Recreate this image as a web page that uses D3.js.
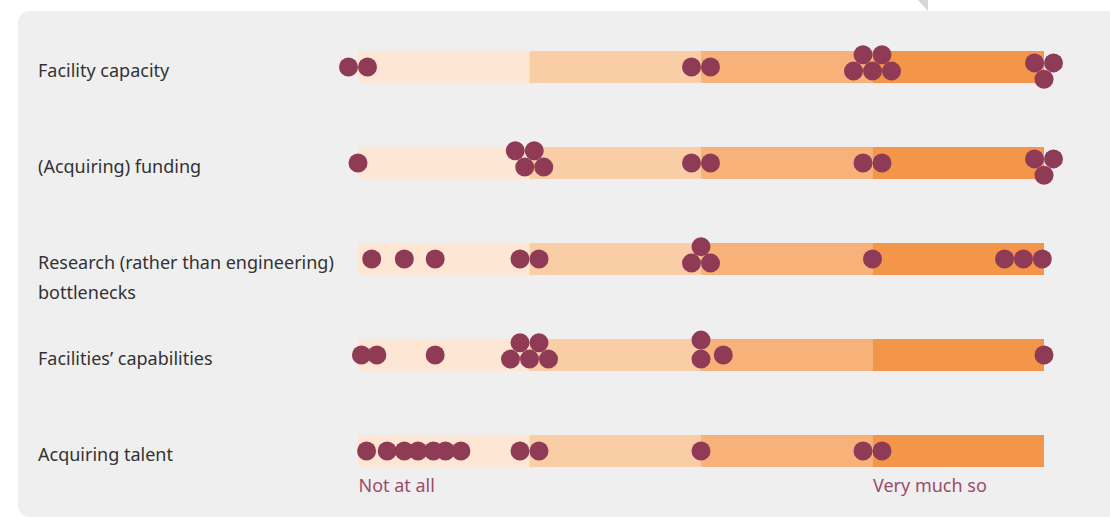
<!DOCTYPE html>
<html><head><meta charset="utf-8">
<script src="https://cdn.jsdelivr.net/npm/d3@7"></script>
<style>html,body{margin:0;padding:0;background:#fff;} svg{display:block;}</style>
</head><body><svg id="chart" width="1110" height="518"></svg>
<script>
// ---- data ----
const categories = [
  "Facility capacity",
  "(Acquiring) funding",
  "Research (rather than engineering) bottlenecks",
  "Facilities’ capabilities",
  "Acquiring talent"
];
// individual responses on a 1 (not at all) – 5 (very much so) scale
const facilityCapacity = [1, 1, 3, 3, 4, 4, 4, 4, 4, 5, 5, 5];
const acquiringFunding = [1, 2, 2, 2, 2, 3, 3, 4, 4, 5, 5, 5];
const researchBottlenecks = [1.08, 1.27, 1.45, 2, 2, 3, 3, 3, 4, 4.77, 4.88, 4.99];
const facilitiesCapabilities = [1.02, 1.11, 1.45, 2, 2, 2, 2, 2, 3, 3, 3.13, 5];
const acquiringTalent = [1.05, 1.17, 1.27, 1.35, 1.44, 1.51, 1.6, 2, 2, 3, 4, 4];
const responses = [facilityCapacity, acquiringFunding, researchBottlenecks, facilitiesCapabilities, acquiringTalent];
const scaleLevels = [1, 2, 3, 4, 5];
const segmentColors = ["#fde6d3", "#f9cda5", "#f8b179", "#f4964a"];
const axisTickValues = [1, 4];
const axisTickLabels = ["Not at all", "Very much so"];

// ---- chart ----
const W = 1110, H = 518;
const svg = d3.select("#chart");
const FONT = "'Noto Sans', 'Open Sans', sans-serif";

svg.append("rect").attr("x", 18).attr("y", 11).attr("width", W).attr("height", 506)
  .attr("rx", 12).attr("fill", "#efefef");
svg.append("path").attr("d", "M918,0L928,0L928,11Z").attr("fill", "#d6d6d6");

const x = d3.scaleLinear().domain([1, 5]).range([358, 1044]);
const y = d3.scalePoint().domain(categories).range([67, 451]);
const barH = 32, R = 9.5, D = 2 * R, rowH = D * Math.sqrt(3) / 2;

// bars
const segs = d3.pairs(scaleLevels).map((p, i) => ({ a: p[0], b: p[1], c: segmentColors[i] }));
const rows = svg.append("g").selectAll("g.row").data(categories).join("g").attr("class", "row");
rows.selectAll("rect").data(segs).join("rect")
  .attr("x", d => x(d.a)).attr("width", d => x(d.b) - x(d.a))
  .attr("y", function () { return y(d3.select(this.parentNode).datum()) - barH / 2; })
  .attr("height", barH).attr("fill", d => d.c);

// labels
const maxLabelW = 310;
rows.append("text")
  .attr("x", 38).attr("y", d => y(d) + 10)
  .attr("font-family", FONT).attr("font-size", 18).attr("fill", "#333")
  .each(function (d) {
    const t = d3.select(this);
    const words = d.split(" ");
    let line = [];
    let tspan = t.append("tspan").attr("x", 38).attr("dy", 0);
    for (const w of words) {
      line.push(w);
      tspan.text(line.join(" "));
      if (tspan.node().getComputedTextLength() > maxLabelW && line.length > 1) {
        line.pop(); tspan.text(line.join(" "));
        line = [w];
        tspan = t.append("tspan").attr("x", 38).attr("dy", 29.5).text(w);
      }
    }
  });

// dots: identical answers are packed into a small hexagonal stack around their value
const topLevel = d3.max(scaleLevels);
function packRow(values, cat) {
  const cy = y(cat), out = [];
  for (const [v, arr] of d3.groups(values, d => d)) {
    const n = arr.length, cx = x(v);
    if (n === 1) { out.push({ value: v, cx, cy }); continue; }
    const crowded = values.some(o => o !== v && Math.abs(x(o) - cx) < 1.5 * D);
    if (n === 2 && crowded) {   // a neighbour blocks the side: stack vertically
      out.push({ value: v, cx, cy: cy + rowH / 4 });
      out.push({ value: v, cx, cy: cy + rowH / 4 - D });
      continue;
    }
    const b = n <= 2 ? n : Math.ceil(n / 2), t = n - b;
    const dir = v === topLevel ? 1 : -1;          // overflow row below at the scale's end
    const off = t === b ? D / 4 : 0;
    const shift = t > 0 ? -dir * rowH / 4 : 0;
    for (let i = 0; i < b; i++) out.push({ value: v, cx: cx + (i - (b - 1) / 2) * D + off, cy: cy + shift });
    for (let i = 0; i < t; i++) out.push({ value: v, cx: cx + (i - (t - 1) / 2) * D - off, cy: cy + shift + dir * rowH });
  }
  return out;
}
const nodes = responses.flatMap((vals, i) => packRow(vals, categories[i]));

svg.append("g").selectAll("circle").data(nodes).join("circle")
  .attr("cx", d => d.cx).attr("cy", d => d.cy).attr("r", R).attr("fill", "#8f3b55");

// scale end labels
const axis = d3.axisBottom(x).tickValues(axisTickValues)
  .tickFormat((d, i) => axisTickLabels[i]).tickSize(0).tickPadding(12);
const ag = svg.append("g")
  .attr("transform", `translate(0,${y(categories[categories.length - 1]) + barH / 2})`)
  .call(axis);
ag.select(".domain").remove();
ag.selectAll("text").attr("text-anchor", "start")
  .attr("font-family", FONT).attr("font-size", 18).attr("fill", "#9a4d69");
</script></body></html>
